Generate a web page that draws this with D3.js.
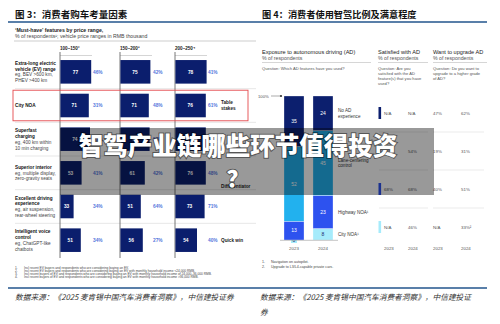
<!DOCTYPE html>
<html>
<head>
<meta charset="utf-8">
<script src="https://cdn.jsdelivr.net/npm/d3@7"></script>
<style>
body { margin: 0; background: #fff; }
svg { display: block; }
text { font-family: "Liberation Sans", Arial, sans-serif; }
.cjk { font-family: "Noto Sans CJK SC", sans-serif; }
</style>
</head>
<body>
<div id="chart"></div>
<script>

// ---- left figure data: must-have features by price range
var priceRanges = ["100–150²", "150–200³", "200–250⁴"];
var features = ["Extra-long EV range", "City NOA", "Superfast charging", "Superior interior", "Excellent driving experience", "Intelligent voice control"];
var featureTitles = [["Extra-long electric", "vehicle (EV) range"], ["City NOA"], ["Superfast", "charging"], ["Superior interior"], ["Excellent driving", "experience"], ["Intelligent voice", "control"]];
var featureNotes = [["eg, BEV >600 km,", "PHEV >400 km"], [], ["eg, 400 km within", "10 min charging"], ["eg, multiple display,", "zero-gravity seats"], ["eg, air suspension,", "rear-wheel steering"], ["eg, ChatGPT-like", "chatbots"]];
var mustHave = [[77, 75, 78], [71, 71, 76], [74, 73, 76], [53, 61, 76], [33, 51, 73], [51, 56, 54]];
var buyShare = [[46, 42, 41], [31, 48, 61], [52, 56, 58], [41, 42, 48], [34, 64, 71], [34, 27, 40]];
var leftNotes = [
    "Incl recent EV buyers and respondents who are considering buying an EV.",
    "Incl recent EV buyers and respondents who are considering buying an EV with monthly household income <24,000 RMB.",
    "Incl recent buyers of EV and respondents who are considering buying an EV with monthly household income of 24,000–36,000 RMB.",
    "Incl recent buyers of EV and respondents who are considering buying an EV with monthly household income >36,000 RMB."
];

// ---- right figure data: AD exposure and satisfaction
var years = ["2023", "2024"];
var segments = ["city", "highway", "lane", "noAd"];
var segmentLabels = {noAd: ["No AD", "experience"], lane: ["Lane-centering", "control"], highway: ["Highway NOA¹"], city: ["City NOA¹"]};
var exposure2023 = {noAd: 35, lane: 52, highway: 13, city: 0};
var exposure2024 = {noAd: 24, lane: 45, highway: 23, city: 8};
var tableRows = ["noAd", "lane", "highway", "city"];
var satisfied2023 = ["N/A", "62%", "68%", "N/A"];
var satisfied2024 = ["N/A", "54%", "68%", "46%"];
var upgrade2023 = ["47%", "19%", "40%", "N/A"];
var upgrade2024 = ["62%", "31%", "51%", "33%²"];
var rightNotes = ["Navigation on autopilot.", "Upgrade to L3/L4-capable private cars."];

var sourceText = "数据来源：《2025 麦肯锡中国汽车消费者洞察》，中信建投证券";

var navy = "#0b1e6d";
var colors = {noAd: "#0c1f6e", lane: "#22b1ee", highway: "#2d52ef", city: "#a6ebfb"};
var lineBlue = "#22558c";

var svg = d3.select("#chart").append("svg")
    .attr("width", 500)
    .attr("height", 324);

// titles and blue rules
svg.append("text").attr("class", "cjk")
    .attr("x", 15).attr("y", 18)
    .attr("font-size", 9.5).attr("font-weight", "bold").attr("fill", "#111")
    .text("图 3：消费者购车考量因素");
svg.append("text").attr("class", "cjk")
    .attr("x", 262).attr("y", 18)
    .attr("font-size", 9.2).attr("font-weight", "bold").attr("fill", "#111")
    .text("图 4：消费者使用智驾比例及满意程度");
[[8, 250, 22], [250, 487, 22], [8, 250, 288], [250, 487, 288]].forEach(function (l) {
    svg.append("line").attr("x1", l[0]).attr("x2", l[1]).attr("y1", l[2]).attr("y2", l[2])
        .attr("stroke", lineBlue).attr("stroke-width", 1.3);
});

// ================= left figure =================
svg.append("clipPath").attr("id", "leftClip")
    .append("rect").attr("x", 0).attr("y", 0).attr("width", 256).attr("height", 324);
var left = svg.append("g").attr("clip-path", "url(#leftClip)");

left.append("text").attr("x", 15).attr("y", 32).attr("font-size", 5.2).attr("font-weight", "bold").attr("fill", "#222")
    .text("‘Must-have’ features by price range,");
left.append("text").attr("x", 15).attr("y", 38).attr("font-size", 5.2).attr("fill", "#444")
    .text("% of respondents¹; vehicle price ranges in RMB thousand");
left.append("line").attr("x1", 14).attr("x2", 256).attr("y1", 41).attr("y2", 41)
    .attr("stroke", "#999").attr("stroke-width", 0.5);

var colX = d3.scaleOrdinal().domain(priceRanges).range([60, 120, 175]);
var barW = d3.scaleLinear().domain([0, 100]).range([0, 40]);
var rowY = d3.scaleBand().domain(features).range([55, 257]).paddingInner(0.3).paddingOuter(0.15);
var rowStep = rowY.step();

// row separators
features.slice(1).forEach(function (f) {
    var y = rowY(f) - rowStep * 0.15;
    left.append("line").attr("x1", 15).attr("x2", 256).attr("y1", y).attr("y2", y)
        .attr("stroke", "#d6d6d6").attr("stroke-width", 0.6);
});

// column headers and axes
priceRanges.forEach(function (p) {
    var x = colX(p);
    left.append("text").attr("x", x).attr("y", 50).attr("font-size", 4.6).attr("font-weight", "bold").attr("fill", "#222")
        .text(p);
    left.append("line").attr("x1", x).attr("x2", x + 32).attr("y1", 55.5).attr("y2", 55.5)
        .attr("stroke", "#aaa").attr("stroke-width", 0.5);
    left.append("line").attr("x1", x).attr("x2", x).attr("y1", 52).attr("y2", 258)
        .attr("stroke", "#555").attr("stroke-width", 0.8);
});

// row labels
features.forEach(function (f, i) {
    var lines = featureTitles[i].map(function (t) { return {t: t, b: true}; })
        .concat(featureNotes[i].map(function (t) { return {t: t, b: false}; }));
    var cy = rowY(f) + rowY.bandwidth() / 2;
    var y0 = cy - (lines.length - 1) * 5.8 / 2 + 1.7;
    lines.forEach(function (l, j) {
        left.append("text").attr("x", 15).attr("y", y0 + j * 5.8)
            .attr("font-size", 4.7).attr("font-weight", l.b ? "bold" : "normal")
            .attr("fill", l.b ? "#111" : "#444").text(l.t);
    });
});

// bars, values and shares
features.forEach(function (f, i) {
    priceRanges.forEach(function (p, j) {
        var x = colX(p), y = rowY(f), h = rowY.bandwidth();
        left.append("rect").attr("x", x + 0.4).attr("y", y).attr("width", barW(mustHave[i][j])).attr("height", h)
            .attr("fill", navy);
        left.append("text").attr("x", x + barW(mustHave[i][j]) / 2).attr("y", y + h / 2 + 1.7)
            .attr("text-anchor", "middle").attr("font-size", 4.8).attr("font-weight", "bold").attr("fill", "#fff")
            .text(mustHave[i][j]);
        left.append("text").attr("x", x + 33).attr("y", y + h / 2 + 1.7)
            .attr("font-size", 4.8).attr("font-weight", "bold").attr("fill", "#5576dc")
            .text(buyShare[i][j] + "%");
    });
});

// quadrant labels
function rowMid(i) { return rowY(features[i]) + rowY.bandwidth() / 2; }
[[["Table", "stakes"], rowMid(1)], [["Differentiator"], (rowMid(3) + rowMid(4)) / 2 - 3], [["Quick win"], rowMid(5)]]
    .forEach(function (q) {
        q[0].forEach(function (t, k) {
            left.append("text").attr("x", 221).attr("y", q[1] + 1.7 + (k - (q[0].length - 1) / 2) * 5.5)
                .attr("font-size", 4.7).attr("font-weight", "bold").attr("fill", "#222").text(t);
        });
    });

// red highlight box
left.append("rect").attr("x", 13).attr("y", rowY(features[1]) - 3.5).attr("width", 235).attr("height", rowY.bandwidth() + 7)
    .attr("fill", "none").attr("stroke", "#e5494d").attr("stroke-width", 0.9);

// footnotes
leftNotes.forEach(function (n, i) {
    var y = 269.3 + i * 2.8;
    left.append("text").attr("x", 15).attr("y", y).attr("font-size", 3.2).attr("fill", "#444").text((i + 1) + ".");
    left.append("text").attr("x", 24).attr("y", y).attr("font-size", 3.2).attr("fill", "#444").text(n);
});

// ================= right figure =================
var right = svg.append("g");
var hdrs = [
    [262, "Exposure to autonomous driving (AD)", 371, ["Question: Which AD features have you used?"]],
    [378, "Satisfied with AD", 428, ["Question: Are you", "satisfied with the AD", "feature(s) that you have", "used?"]],
    [433, "Want to upgrade AD", 487, ["Question: Do you want to", "upgrade to a higher grade", "of AD?"]]
];
hdrs.forEach(function (h) {
    right.append("text").attr("x", h[0]).attr("y", 53.5).attr("font-size", 5.6).attr("fill", "#222").text(h[1]);
    right.append("text").attr("x", h[0]).attr("y", 59.8).attr("font-size", 5.2).attr("fill", "#555").text("% of respondents");
    right.append("line").attr("x1", h[0]).attr("x2", h[2]).attr("y1", 62.5).attr("y2", 62.5)
        .attr("stroke", "#bbb").attr("stroke-width", 0.6);
    h[3].forEach(function (q, k) {
        right.append("text").attr("x", h[0]).attr("y", 69.8 + k * 4.9).attr("font-size", 4.1).attr("fill", "#555").text(q);
    });
});

var yScale = d3.scaleLinear().domain([0, 100]).range([240, 96]);
var xBand = d3.scaleBand().domain(years).range([284, 333]).paddingInner(0.31);
var stackRows = [Object.assign({year: "2023"}, exposure2023), Object.assign({year: "2024"}, exposure2024)];
var series = d3.stack().keys(segments)(stackRows);

// 100% marker
right.append("text").attr("x", 258).attr("y", 97.5).attr("font-size", 4.2).attr("fill", "#555").text("100%");
right.append("line").attr("x1", 271).attr("x2", 281).attr("y1", 96).attr("y2", 96).attr("stroke", "#555").attr("stroke-width", 0.5);
right.append("circle").attr("cx", 281).attr("cy", 96).attr("r", 1.1).attr("fill", "#333");

series.forEach(function (s) {
    s.forEach(function (d) {
        var x = xBand(d.data.year), v = d[1] - d[0];
        var yTop = yScale(d[1]), yBot = yScale(d[0]);
        if (v > 0) {
            right.append("rect").attr("x", x).attr("y", yTop).attr("width", xBand.bandwidth()).attr("height", yBot - yTop)
                .attr("fill", colors[s.key]).attr("stroke", "#fff").attr("stroke-width", 0.3);
            right.append("text").attr("x", x + xBand.bandwidth() / 2).attr("y", (yTop + yBot) / 2 + 1.8)
                .attr("text-anchor", "middle").attr("font-size", 5).attr("fill", s.key === "city" ? "#1b2a6b" : "#fff")
                .text(v);
        } else {
            right.append("rect").attr("x", x + xBand.bandwidth() / 2 - 3).attr("y", yBot - 3.5).attr("width", 6).attr("height", 6.5)
                .attr("fill", colors[s.key]);
            right.append("text").attr("x", x + xBand.bandwidth() / 2).attr("y", yBot + 1.7)
                .attr("text-anchor", "middle").attr("font-size", 5).attr("fill", "#1b2a6b").text(v);
        }
    });
    // segment names beside the 2024 bar
    var d24 = s[1];
    var cy = (yScale(d24[0]) + yScale(d24[1])) / 2;
    var lines = segmentLabels[s.key];
    lines.forEach(function (t, k) {
        right.append("text").attr("x", 338).attr("y", cy + 1.6 + (k - (lines.length - 1) / 2) * 5.6)
            .attr("font-size", 4.6).attr("fill", "#333").text(t);
    });
});
right.append("line").attr("x1", 280).attr("x2", 338).attr("y1", 240.3).attr("y2", 240.3).attr("stroke", "#888").attr("stroke-width", 0.5);
years.forEach(function (yr) {
    right.append("text").attr("x", xBand(yr) + xBand.bandwidth() / 2).attr("y", 250).attr("text-anchor", "middle")
        .attr("font-size", 4.4).attr("fill", "#555").text(yr);
});

// satisfaction / upgrade tables
var tRow = d3.scalePoint().domain(tableRows).range([113, 227]);
var tCols = [[384, satisfied2023, "2023"], [408, satisfied2024, "2024"], [433, upgrade2023, "2023"], [461, upgrade2024, "2024"]];
tableRows.forEach(function (r, i) {
    var y = tRow(r);
    right.append("rect").attr("x", 378.5).attr("y", y - 6).attr("width", 2.6).attr("height", 12).attr("fill", colors[r]);
    tCols.forEach(function (c) {
        right.append("text").attr("x", c[0]).attr("y", y + 1.6).attr("font-size", 4.4).attr("fill", "#555").text(c[1][i]);
    });
    if (i > 0) {
        var ys = y - tRow.step() / 2;
        [[379, 428], [433, 484]].forEach(function (l) {
            right.append("line").attr("x1", l[0]).attr("x2", l[1]).attr("y1", ys).attr("y2", ys)
                .attr("stroke", "#ddd").attr("stroke-width", 0.6);
        });
    }
});
tCols.forEach(function (c) {
    right.append("text").attr("x", c[0]).attr("y", 250).attr("font-size", 4.4).attr("fill", "#555").text(c[2]);
});

rightNotes.forEach(function (n, i) {
    var y = 263 + i * 5.3;
    right.append("text").attr("x", 262).attr("y", y).attr("font-size", 3.6).attr("fill", "#444").text((i + 1) + ".");
    right.append("text").attr("x", 271).attr("y", y).attr("font-size", 3.6).attr("fill", "#444").text(n);
});

// sources
svg.append("text").attr("class", "cjk").attr("x", 15).attr("y", 300)
    .attr("font-size", 7.7).attr("font-style", "italic").attr("fill", "#333").text(sourceText);
svg.append("text").attr("class", "cjk").attr("x", 260).attr("y", 300)
    .attr("font-size", 7.7).attr("font-style", "italic").attr("fill", "#333").text(sourceText.slice(0, -1));
svg.append("text").attr("class", "cjk").attr("x", 260).attr("y", 315)
    .attr("font-size", 7.7).attr("font-style", "italic").attr("fill", "#333").text(sourceText.slice(-1));

// overlay banner
svg.append("rect").attr("x", 60).attr("y", 128).attr("width", 374).attr("height", 67)
    .attr("fill", "#000").attr("opacity", 0.4);
[["智驾产业链哪些环节值得投资", 155, 24.5], ["？", 187, 23]].forEach(function (b) {
    svg.append("text").attr("class", "cjk").attr("x", 238).attr("y", b[1]).attr("text-anchor", "middle")
        .attr("font-size", b[2]).attr("font-weight", 900).attr("fill", "#fff")
        .attr("stroke", "rgba(0,0,0,0.45)").attr("stroke-width", 2).attr("paint-order", "stroke")
        .text(b[0]);
});
</script>
</body>
</html>
